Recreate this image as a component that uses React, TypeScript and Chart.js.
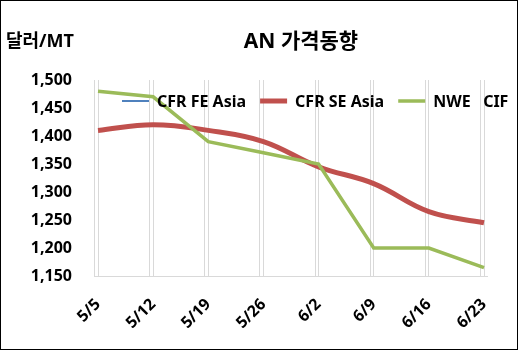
import React, { useEffect, useRef } from "react";
import { Chart, registerables } from "chart.js";

Chart.register(...registerables);

const categories = ["5/5", "5/12", "5/19", "5/26", "6/2", "6/9", "6/16", "6/23"];
const cfrFeAsia: (number | null)[] = [null, null, null, null, null, null, null, null];
const cfrSeAsia = [1410, 1420, 1410, 1390, 1345, 1315, 1265, 1245];
const nweCif = [1480, 1470, 1390, 1370, 1350, 1200, 1200, 1165];
const seriesLabels = ["CFR FE Asia", "CFR SE Asia", "NWE   CIF"];
const yMin = 1150;
const yMax = 1500;
const yStep = 50;
const titleText = "AN 가격동향";
const unitText = "달러/MT";

const FF = '"Noto Sans", "Noto Sans CJK KR", sans-serif';
const GRID = "#d9d9d9";
const BLUE = "#4f81bd";
const RED = "#c0504d";
const GREEN = "#9bbb59";

const decor = {
  id: "decor",
  beforeDatasetsDraw(chart: any) {
    const { ctx, chartArea, scales } = chart;
    const x = scales.x;
    ctx.save();
    ctx.strokeStyle = GRID;
    ctx.lineWidth = 1;
    ctx.beginPath();
    for (let i = 0; i < categories.length; i++) {
      const px = Math.round(x.getPixelForValue(i)) - 4 + 0.5;
      ctx.moveTo(px, chartArea.top);
      ctx.lineTo(px, chartArea.bottom);
    }
    const by = Math.round(chartArea.bottom) + 0.5;
    ctx.moveTo(chartArea.left - 4, by);
    ctx.lineTo(chartArea.right + 4, by);
    ctx.stroke();
    ctx.restore();
  },
  afterDraw(chart: any) {
    const { ctx } = chart;
    ctx.save();
    ctx.fillStyle = "#000";
    ctx.textBaseline = "middle";
    // title
    ctx.font = `bold 21px ${FF}`;
    ctx.textAlign = "center";
    ctx.fillText(titleText, 300, 41);
    // unit
    ctx.font = `bold 18px ${FF}`;
    ctx.textAlign = "left";
    ctx.fillText(unitText, 5, 41);
    // legend
    ctx.font = `bold 16px ${FF}`;
    let lx = 121;
    const ly = 100;
    chart.data.datasets.forEach((ds: any) => {
      ctx.strokeStyle = ds.borderColor;
      ctx.lineWidth = ds.borderWidth;
      ctx.lineCap = "butt";
      ctx.beginPath();
      ctx.moveTo(lx, ly);
      ctx.lineTo(lx + 27, ly);
      ctx.stroke();
      ctx.fillText(ds.label, lx + 35, ly + 1);
      lx += 35 + ctx.measureText(ds.label).width + 14;
    });
    ctx.restore();
  },
};

export default function App() {
  const ref = useRef<HTMLCanvasElement | null>(null);
  useEffect(() => {
    if (!ref.current) return;
    const chart = new Chart(ref.current, {
      type: "line",
      data: {
        labels: categories,
        datasets: [
          {
            label: seriesLabels[0],
            data: cfrFeAsia,
            borderColor: BLUE,
            backgroundColor: BLUE,
            borderWidth: 2,
            pointRadius: 0,
            order: 2,
          },
          {
            label: seriesLabels[1],
            data: cfrSeAsia,
            borderColor: RED,
            backgroundColor: RED,
            borderWidth: 5,
            pointRadius: 0,
            tension: 0.4,
            order: 1,
          },
          {
            label: seriesLabels[2],
            data: nweCif,
            borderColor: GREEN,
            backgroundColor: GREEN,
            borderWidth: 3.5,
            pointRadius: 0,
            tension: 0,
            order: 0,
          },
        ],
      },
      options: {
        animation: false,
        responsive: false,
        maintainAspectRatio: false,
        layout: { padding: { top: 79, right: 33, left: 0, bottom: 0 } },
        plugins: {
          legend: { display: false },
          title: { display: false },
          tooltip: { enabled: false },
        },
        scales: {
          x: {
            type: "category",
            offset: false,
            grid: { display: true, color: GRID, drawTicks: false, lineWidth: 1 },
            border: { display: true, color: GRID },
            ticks: {
              color: "#000",
              font: { family: FF, size: 16, weight: "bold" },
              minRotation: 45,
              maxRotation: 45,
              padding: 19,
              autoSkip: false,
            },
            afterFit(scale: any) {
              scale.height = 73;
            },
          },
          y: {
            min: yMin,
            max: yMax,
            grid: { display: false, drawTicks: false },
            border: { display: false },
            ticks: {
              stepSize: yStep,
              color: "#000",
              font: { family: FF, size: 16, weight: "bold" },
              padding: 26,
              callback: (v: any) => Number(v).toLocaleString("en-US"),
            },
            afterFit(scale: any) {
              scale.width = 97;
            },
          },
        },
      },
      plugins: [decor],
    });
    return () => chart.destroy();
  }, []);
  return (
    <div
      style={{
        position: "absolute",
        left: 0,
        top: 0,
        width: 518,
        height: 350,
        border: "1px solid #000",
        boxSizing: "border-box",
        background: "#fff",
      }}
    >
      <canvas ref={ref} width={516} height={348} style={{ display: "block", width: 516, height: 348 }} />
    </div>
  );
}
